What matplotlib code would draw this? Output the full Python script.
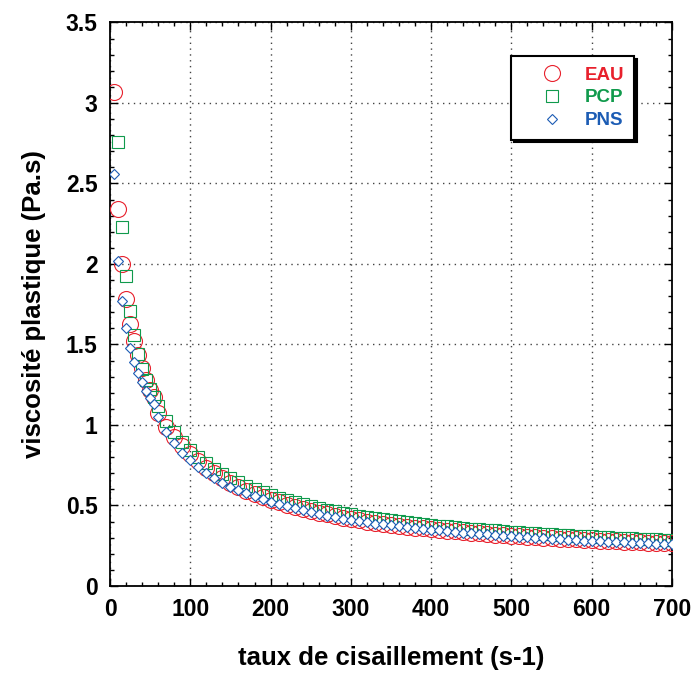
import numpy as np
import matplotlib
matplotlib.use("Agg")
import matplotlib.pyplot as plt
from matplotlib.ticker import MultipleLocator, FixedLocator
from matplotlib.lines import Line2D

plt.rcParams['font.family'] = ['Liberation Sans', 'DejaVu Sans']

# shear rate (s-1)
shear = [5, 10, 15, 20, 25, 30, 35, 40, 45, 50, 55, 60,
         70, 80, 90, 100, 110, 120, 130, 140, 150, 160, 170, 180, 190, 200,
         210, 220, 230, 240, 250, 260, 270, 280, 290, 300,
         310, 320, 330, 340, 350, 360, 370, 380, 390, 400,
         410, 420, 430, 440, 450, 460, 470, 480, 490, 500,
         510, 520, 530, 540, 550, 560, 570, 580, 590, 600,
         610, 620, 630, 640, 650, 660, 670, 680, 690, 700]

eau = [3.07, 2.34, 2.00, 1.78, 1.63, 1.52, 1.435, 1.355, 1.28, 1.22, 1.175, 1.075,
       0.99, 0.925, 0.87, 0.82, 0.775, 0.735, 0.70, 0.668, 0.64, 0.615, 0.592, 0.572, 0.553, 0.536,
       0.520, 0.505, 0.491, 0.478, 0.466, 0.455, 0.444, 0.434, 0.425, 0.416,
       0.408, 0.400, 0.393, 0.386, 0.380, 0.374, 0.368, 0.363, 0.358, 0.353,
       0.348, 0.343, 0.339, 0.334, 0.330, 0.326, 0.322, 0.319, 0.315, 0.312,
       0.309, 0.305, 0.302, 0.299, 0.297, 0.294, 0.291, 0.289, 0.286, 0.284,
       0.281, 0.279, 0.277, 0.275, 0.273, 0.271, 0.270, 0.268, 0.267, 0.266]

pcp = [np.nan, 2.76, 2.23, 1.925, 1.71, 1.56, 1.44, 1.35, 1.28, 1.225, 1.175, 1.12,
       1.025, 0.955, 0.895, 0.845, 0.80, 0.762, 0.728, 0.698, 0.670, 0.645, 0.622, 0.601, 0.582, 0.565,
       0.549, 0.534, 0.520, 0.507, 0.495, 0.484, 0.473, 0.463, 0.454, 0.445,
       0.437, 0.429, 0.422, 0.415, 0.408, 0.402, 0.396, 0.390, 0.385, 0.380,
       0.375, 0.370, 0.365, 0.361, 0.357, 0.353, 0.349, 0.345, 0.341, 0.338,
       0.334, 0.331, 0.328, 0.325, 0.322, 0.319, 0.316, 0.313, 0.311, 0.308,
       0.306, 0.303, 0.301, 0.299, 0.297, 0.294, 0.292, 0.290, 0.288, 0.286]

pns = [2.56, 2.02, 1.77, 1.60, 1.48, 1.39, 1.32, 1.265, 1.21, 1.17, 1.13, 1.05,
       0.955, 0.886, 0.828, 0.783, 0.741, 0.704, 0.669, 0.640, 0.615, 0.594, 0.575, 0.557, 0.540, 0.524,
       0.509, 0.495, 0.482, 0.470, 0.458, 0.447, 0.437, 0.427, 0.418, 0.410,
       0.402, 0.395, 0.388, 0.382, 0.376, 0.370, 0.365, 0.360, 0.355, 0.350,
       0.345, 0.341, 0.336, 0.332, 0.328, 0.324, 0.320, 0.316, 0.313, 0.309,
       0.306, 0.302, 0.299, 0.296, 0.293, 0.290, 0.287, 0.285, 0.282, 0.280,
       0.277, 0.275, 0.273, 0.271, 0.269, 0.267, 0.265, 0.263, 0.261, 0.259]

series_names = ['EAU', 'PCP', 'PNS']
colors = ['#e8202c', '#109a4c', '#1c5cb4']

xticks = [0, 100, 200, 300, 400, 500, 600, 700]
yticks = [0, 0.5, 1, 1.5, 2, 2.5, 3, 3.5]
ytick_labels = ['0', '0.5', '1', '1.5', '2', '2.5', '3', '3.5']

fig = plt.figure(figsize=(6.92, 6.73), dpi=100)
ax = fig.add_axes([0.159, 0.1293, 0.8120, 0.8373])

ax.plot(shear, eau, linestyle='none', marker='o', markersize=11.5,
        markerfacecolor='none', markeredgecolor=colors[0], markeredgewidth=0.8,
        label=series_names[0], zorder=3)
ax.plot(shear, pcp, linestyle='none', marker='s', markersize=8.6,
        markerfacecolor='none', markeredgecolor=colors[1], markeredgewidth=0.8,
        label=series_names[1], zorder=4)
ax.plot(shear, pns, linestyle='none', marker='D', markersize=4.6,
        markerfacecolor='white', markeredgecolor=colors[2], markeredgewidth=0.8,
        label=series_names[2], zorder=5)

ax.set_xlim(0, 700)
ax.set_ylim(0, 3.5)
ax.xaxis.set_major_locator(FixedLocator(xticks))
ax.yaxis.set_major_locator(FixedLocator(yticks))
ax.set_yticklabels(ytick_labels)
ax.xaxis.set_minor_locator(MultipleLocator(20))
ax.yaxis.set_minor_locator(MultipleLocator(0.1))

ax.tick_params(which='both', direction='in', top=True, right=True,
               labelsize=16.5, width=1.0, colors='black')
ax.tick_params(which='major', length=6, pad=9)
ax.tick_params(which='minor', length=3)
for lab in ax.get_xticklabels() + ax.get_yticklabels():
    lab.set_fontweight('bold')
for s in ax.spines.values():
    s.set_linewidth(1.3)

ax.grid(True, which='major', linestyle=(0, (1, 3.2)), color='#444444', linewidth=1.0)
ax.set_axisbelow(True)

ax.set_xlabel('taux de cisaillement (s-1)', fontsize=18.5, fontweight='bold', labelpad=18)
ax.set_ylabel('viscosité plastique (Pa.s)', fontsize=18.5, fontweight='bold', labelpad=14)

handles = [
    Line2D([], [], linestyle='none', marker='o', markersize=11.5, markerfacecolor='none',
           markeredgecolor=colors[0], markeredgewidth=0.8),
    Line2D([], [], linestyle='none', marker='s', markersize=8.6, markerfacecolor='none',
           markeredgecolor=colors[1], markeredgewidth=0.8),
    Line2D([], [], linestyle='none', marker='D', markersize=4.6, markerfacecolor='white',
           markeredgecolor=colors[2], markeredgewidth=0.8),
]
leg = ax.legend(handles, series_names, loc='upper left', bbox_to_anchor=(0.714, 0.94),
                frameon=True, fancybox=False, shadow={'color': 'black', 'alpha': 1},
                labelcolor=colors, prop={'weight': 'bold', 'size': 13.5},
                handletextpad=0.15, labelspacing=0.3, borderpad=0.55, handlelength=3.2,
                borderaxespad=0)
leg.get_frame().set_edgecolor('black')
leg.get_frame().set_linewidth(1.5)
leg.get_frame().set_alpha(1)
leg.set_zorder(10)

fig.savefig('out.png', dpi=100)
